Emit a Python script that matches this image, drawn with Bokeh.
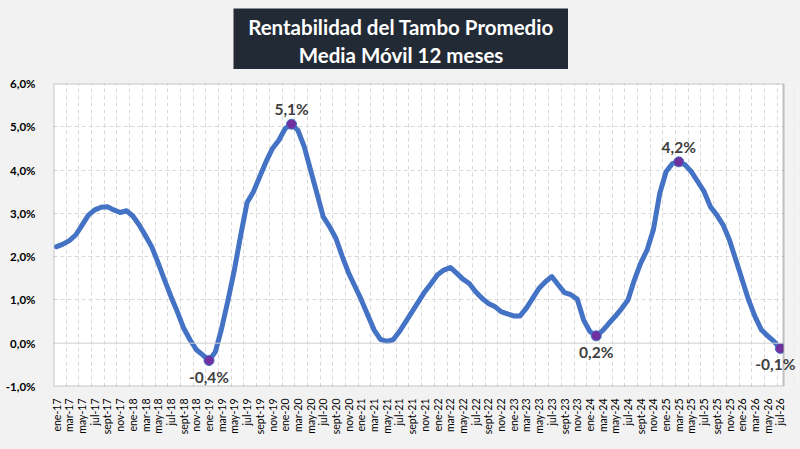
import math
from bokeh.plotting import figure
from bokeh.layouts import column
from bokeh.models import FixedTicker, Range1d, Span, Label, BoxAnnotation
from bokeh.core.properties import value
from bokeh.embed import file_html
from bokeh.resources import INLINE

# ---------------- data ----------------
month_names = ["ene", "feb", "mar", "abr", "may", "jun", "jul", "ago", "sept", "oct", "nov", "dic"]
start_year = 2017
n_months = 115  # ene-17 .. jul-26

rentabilidad = [
    2.23, 2.29, 2.37, 2.50, 2.73, 2.96, 3.08, 3.14, 3.15, 3.08, 3.02, 3.06,
    2.94, 2.73, 2.48, 2.22, 1.85, 1.46, 1.08, 0.73, 0.35, 0.08, -0.15, -0.27,
    -0.40, -0.20, 0.35, 1.00, 1.70, 2.50, 3.25, 3.50, 3.85, 4.20, 4.50, 4.69,
    4.96, 5.06, 4.92, 4.54, 4.00, 3.46, 2.92, 2.69, 2.42, 2.00, 1.62, 1.31,
    1.00, 0.65, 0.31, 0.09, 0.04, 0.08, 0.27, 0.50, 0.73, 0.96, 1.19, 1.38,
    1.58, 1.69, 1.75, 1.62, 1.48, 1.38, 1.19, 1.04, 0.92, 0.85, 0.73, 0.68,
    0.63, 0.63, 0.81, 1.04, 1.27, 1.42, 1.54, 1.35, 1.17, 1.12, 1.02, 0.54,
    0.27, 0.17, 0.29, 0.46, 0.62, 0.80, 1.00, 1.46, 1.85, 2.15, 2.62, 3.46,
    3.96, 4.15, 4.19, 4.12, 3.96, 3.73, 3.50, 3.15, 2.96, 2.73, 2.38, 1.92,
    1.46, 1.00, 0.62, 0.31, 0.17, 0.04, -0.12,
]
highlight_idx = [24, 37, 85, 98, 114]
y_ticks = [-1, 0, 1, 2, 3, 4, 5, 6]
title_lines = ["Rentabilidad del Tambo Promedio", "Media Móvil 12 meses"]

month_labels = [f"{month_names[i % 12]}-{(start_year + i // 12) % 100:02d}" for i in range(n_months)]
xs = list(range(n_months))

def pct(v):
    return f"{v:.1f}%".replace(".", ",")

BG = "#f2f2f2"

# ---------------- title box ----------------
t = figure(width=335, height=61, output_backend="svg", toolbar_location=None,
           x_range=Range1d(0, 1), y_range=Range1d(0, 1),
           x_axis_location=None, y_axis_location=None,
           min_border_left=0, min_border_right=0, min_border_top=0, min_border_bottom=0,
           margin=(8, 0, 6, 233))
t.frame_align = False
t.grid.visible = False
t.outline_line_color = None
t.background_fill_color = "#222a35"
t.border_fill_color = "#222a35"
t.text([0.5, 0.5], [0.70, 0.235], text=title_lines, text_align="center", text_baseline="alphabetic",
       text_font=value("Lato"), text_font_style="bold", text_font_size="20.5px", text_color="white")

# ---------------- main figure ----------------
FIG_W, FIG_H = 800, 374
B_LEFT, B_RIGHT, B_TOP, B_BOTTOM = 53, 3, 8, 63
PLOT_RIGHT = 783  # right edge of the white plot area
unit_x = (PLOT_RIGHT - B_LEFT) / n_months
x_end = -0.5 + (FIG_W - B_RIGHT - B_LEFT) / unit_x

p = figure(width=FIG_W, height=FIG_H, output_backend="svg", toolbar_location=None,
           x_range=Range1d(-0.5, x_end), y_range=Range1d(-1, 6),
           min_border_left=B_LEFT, min_border_right=B_RIGHT,
           min_border_top=B_TOP, min_border_bottom=B_BOTTOM)
p.frame_align = False
p.background_fill_color = "white"
p.border_fill_color = BG
p.outline_line_color = None

p.xaxis.ticker = FixedTicker(ticks=xs[::2])
p.xaxis.major_label_overrides = {i: month_labels[i] for i in xs[::2]}
p.xaxis.major_label_orientation = math.pi / 2
p.xaxis.major_label_text_font = "Lato"
p.xaxis.major_label_text_font_size = "10.5px"
p.xaxis.major_label_text_color = "#000000"
p.xaxis.major_label_standoff = 6

p.yaxis.ticker = FixedTicker(ticks=y_ticks)
p.yaxis.major_label_overrides = {tk: pct(tk) for tk in y_ticks}
p.yaxis.major_label_text_font = "Lato"
p.yaxis.major_label_text_font_style = "bold"
p.yaxis.major_label_text_font_size = "11.5px"
p.yaxis.major_label_text_color = "#000000"
p.yaxis.major_label_standoff = 12

for ax in (p.xaxis, p.yaxis):
    ax.axis_line_color = None
    ax.major_tick_line_color = None
    ax.minor_tick_line_color = None

p.xgrid.ticker = FixedTicker(ticks=[i + 1.5 for i in xs[::2] if i + 1.5 < n_months - 0.5])
p.xgrid.grid_line_color = "#d9d9d9"
p.xgrid.grid_line_dash = "4 3"
p.ygrid.ticker = FixedTicker(ticks=[tk for tk in y_ticks if tk not in (0, -1, 6)])
p.ygrid.grid_line_color = "#d9d9d9"
p.ygrid.grid_line_dash = "4 3"
p.add_layout(Span(location=0, dimension="width", line_color="#d0d0d0", line_width=1))

# grey area right of the plot area (chart background)
p.add_layout(BoxAnnotation(left=n_months - 0.5, fill_color=BG, fill_alpha=1, line_color=None))
# plot-area border
p.add_layout(BoxAnnotation(left=-0.5, right=n_months - 0.5, top=6, bottom=-1,
                           fill_alpha=0, line_color="#404040", line_width=2))

p.line(xs, rentabilidad, line_color="#4472c4", line_width=5, line_join="round", line_cap="round")

hy = [rentabilidad[i] for i in highlight_idx]
p.scatter(highlight_idx, hy, size=10, fill_color="#7030a0", line_color="#4472c4", line_width=1)

px_per_unit_y = (FIG_H - B_TOP - B_BOTTOM) / 7.0
for i, v in zip(highlight_idx, hy):
    below = v < 1
    dy = (16 if below else 15) / px_per_unit_y
    dx = (-5 / unit_x) if i == n_months - 1 else 0
    p.add_layout(Label(x=i + dx, y=v - dy if below else v + dy, text=pct(v),
                       text_align="center", text_baseline="middle",
                       text_font="Lato", text_font_style="bold", text_font_size="15.5px",
                       text_color="#404040"))

layout = column(t, p, spacing=0, styles={"background-color": BG})

html = file_html(layout, INLINE)
html = html.replace("<head>", "<head><style>html,body{background:#f2f2f2;}</style>", 1)
open("out.html", "w").write(html)
